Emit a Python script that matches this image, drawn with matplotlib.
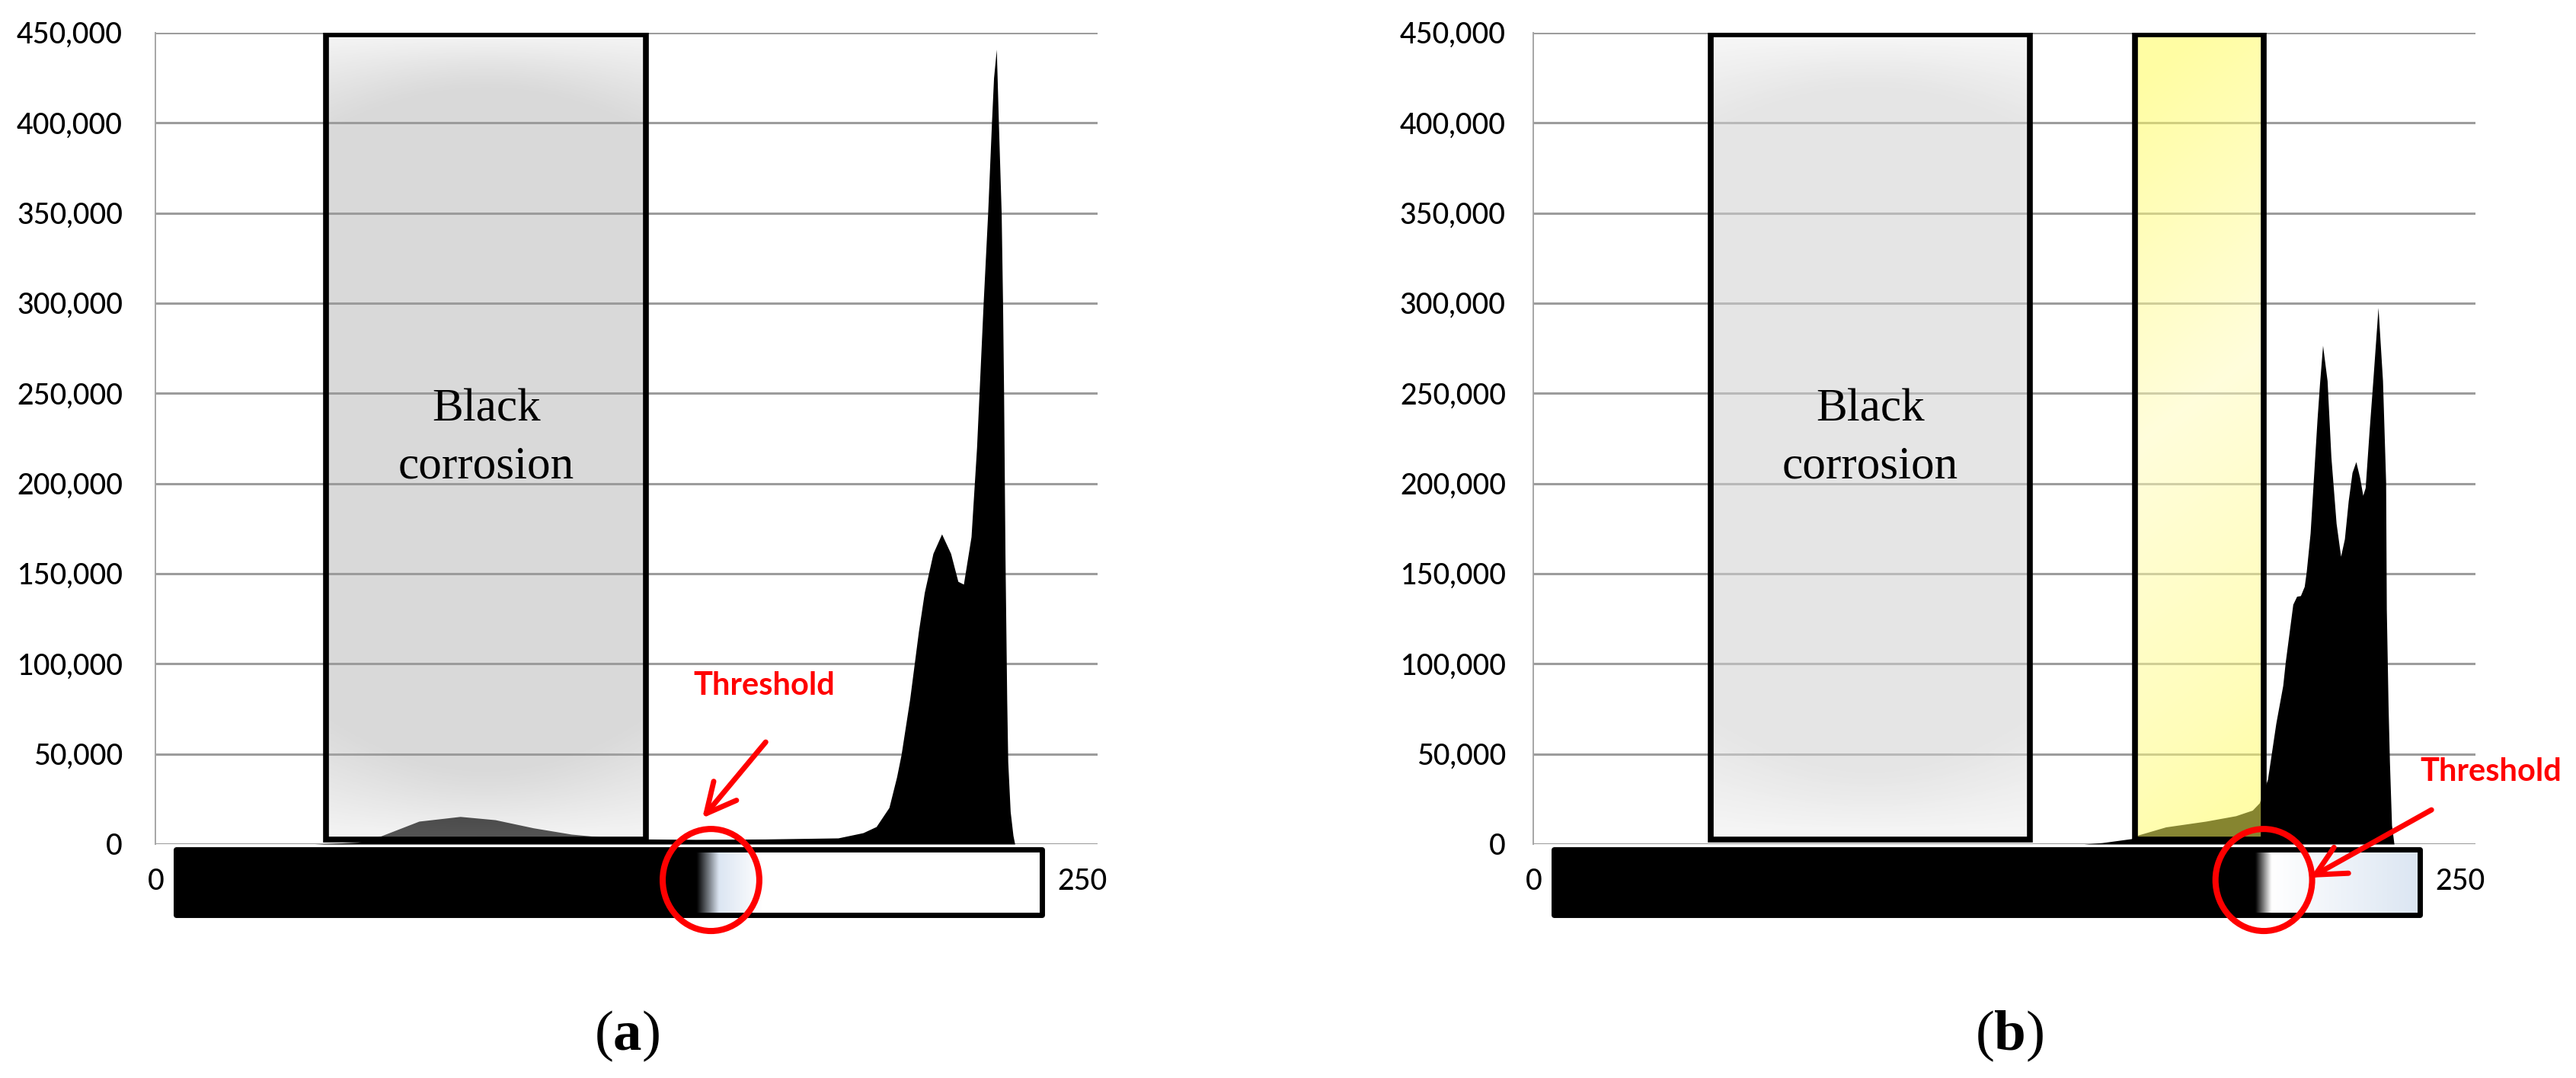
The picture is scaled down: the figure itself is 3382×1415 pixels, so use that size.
import numpy as np
import matplotlib
matplotlib.use('Agg')
import matplotlib.pyplot as plt
from matplotlib.patches import Rectangle, Ellipse
from matplotlib.ticker import FuncFormatter

plt.rcParams['font.family'] = ['Lato', 'DejaVu Sans']
plt.rcParams['mathtext.fontset'] = 'custom'
plt.rcParams['mathtext.rm'] = 'Liberation Serif'
plt.rcParams['mathtext.bf'] = 'Liberation Serif:bold'

# Data 
y_ticks = list(range(0, 450001, 50000))
gray_range = (0, 250)

# (a) grey-level histogram
hist_a_x = [40, 52.5, 59.1, 70.1, 82.0, 92.1, 103.1, 114.1, 125.1, 135.7, 150, 170, 191.1,
            198.3, 202.1, 205.8, 208.0, 209.3, 211.8, 214.3, 216.0, 218.5, 221.0, 223.6,
            225.7, 227.3, 229.5, 231.1, 233.0, 234.3, 235.4, 236.0, 236.8, 237.4, 238.2,
            238.6, 238.9, 239.3, 239.8, 240.1, 240.8, 241.6, 242.1]
hist_a_y = [0, 1000, 4500, 12700, 15300, 13500, 9000, 5500, 3500, 2800, 2600, 2800, 3400,
            6300, 9700, 20300, 37200, 49600, 80600, 117800, 139500, 161200, 172000, 161200,
            145700, 144150, 170500, 220100, 300000, 350000, 400000, 425000, 440800, 400000,
            350000, 300000, 250000, 160000, 80000, 45600, 18000, 4800, 0]

# (b) grey-level histogram
hist_b_x = [150, 153.0, 158.3, 166.7, 168.6, 176.6, 188.2, 196.8, 201.6, 203.6, 204.9, 206.0,
            208.4, 210.4, 211.1, 213.3, 214.4, 215.5, 216.6, 217.2, 218.3, 219.2, 220.3,
            221.0, 221.9, 223.2, 224.3, 225.8, 227.1, 228.2, 229.3, 230.4, 231.5, 232.6,
            233.5, 234.2, 235.3, 236.4, 237.9, 239.2, 240.1, 240.3, 240.8, 241.2, 241.8, 242.5]
hist_b_y = [0, 0, 800, 3000, 5000, 9500, 12700, 15700, 18800, 22800, 30000, 36000,
            67000, 88000, 100600, 133000, 137400, 137800, 142900, 151400, 172500, 201000,
            235700, 255000, 276600, 257000, 214700, 177900, 159600, 169300, 190400, 206100,
            212100, 203200, 193400, 197700, 228500, 257000, 297600, 257000, 200800, 130200,
            77000, 45600, 10600, 0]

# grey-level ranges of the marked regions and thresholds
corrosion_a = (43.3, 135.7)
corrosion_b = (45.3, 137.3)
yellow_b = (167.8, 204.9)
threshold_a = 154.4
threshold_b = 204.9

W, H = 3382, 1415
fig = plt.figure(figsize=(W / 100, H / 100), dpi=100)
fig.patch.set_facecolor('white')

XLIM = (-6, 266)
YLIM = (0, 450000)
BAR_Y = (-39500, -2750)


def px_axes(left, right, top, bottom):
    return fig.add_axes([left / W, 1 - bottom / H, (right - left) / W, (bottom - top) / H])


def setup(ax, pad):
    ax.set_xlim(*XLIM)
    ax.set_ylim(*YLIM)
    ax.set_yticks(y_ticks)
    ax.yaxis.set_major_formatter(FuncFormatter(lambda v, p: f'{int(v):,}'))
    ax.set_xticks([])
    ax.tick_params(axis='y', length=0, pad=pad, labelsize=27, labelcolor='black')
    for lbl in ax.get_yticklabels():
        lbl.set_fontweight('medium')
    for s in ['top', 'right', 'bottom']:
        ax.spines[s].set_visible(False)
    ax.spines['left'].set_color('#a6a6a6')
    ax.spines['left'].set_linewidth(1.4)
    ax.grid(axis='y', color='#9c9c9c', lw=2.2, zorder=0)
    ax.set_axisbelow(True)


def glow_box(ax, rng, base, edge, alpha=0.55, t_top=0.07, t_bot=0.09):
    ny, nx = 400, 120
    u = np.linspace(0, 1, nx)[None, :]
    v = np.linspace(0, 1, ny)[:, None]
    side = 1 + 0.8 * (2 * u - 1) ** 2
    g_top = np.clip(1 - (1 - v) / (t_top * side), 0, 1)
    g_bot = np.clip(1 - v / (t_bot * side), 0, 1)
    g = np.maximum(g_top, g_bot) ** 1.3
    app = base + (edge - base) * g
    c = (app - (1 - alpha)) / alpha
    rgba = np.dstack([c, c, c, np.full_like(c, alpha)])
    ax.imshow(rgba, extent=[rng[0], rng[1], 2500, 449000], origin='lower',
              aspect='auto', zorder=3, interpolation='bilinear')
    ax.add_patch(Rectangle((rng[0], 2500), rng[1] - rng[0], 446500, fill=False,
                           ec='black', lw=5.5, zorder=4, joinstyle='miter'))


def yellow_box(ax, rng, alpha=0.53):
    ny, nx = 400, 60
    u = np.linspace(0, 1, nx)[None, :]
    v = np.linspace(0, 1, ny)[:, None]
    t = np.clip(v - 0.12 * (u - 0.5), 0, 1)
    b = np.interp(t, [0, 0.15, 0.55, 1], [0.66, 0.73, 0.86, 0.64])
    cb = (b - (1 - alpha)) / alpha
    rgba = np.dstack([np.ones_like(cb), np.full_like(cb, 0.99), cb, np.full_like(cb, alpha)])
    ax.imshow(rgba, extent=[rng[0], rng[1], 2500, 449000], origin='lower',
              aspect='auto', zorder=3, interpolation='bilinear')
    ax.add_patch(Rectangle((rng[0], 2500), rng[1] - rng[0], 446500, fill=False,
                           ec='black', lw=5.5, zorder=4, joinstyle='miter'))


def scale_bar(ax, stops, colors):
    xs = np.linspace(gray_range[0], gray_range[1], 600)
    cols = np.array(colors, dtype=float)
    rgb = np.stack([np.interp(xs, stops, cols[:, k]) for k in range(3)], axis=-1)[None, :, :]
    im = ax.imshow(rgb, extent=[gray_range[0], gray_range[1], BAR_Y[0], BAR_Y[1]],
                   aspect='auto', zorder=4, interpolation='bilinear')
    im.set_clip_on(False)
    ax.add_patch(Rectangle((gray_range[0], BAR_Y[0]), gray_range[1] - gray_range[0],
                           BAR_Y[1] - BAR_Y[0], fill=False, ec='black', lw=5,
                           zorder=5, clip_on=False, joinstyle='round'))
    ymid = (BAR_Y[0] + BAR_Y[1]) / 2
    ax.text(gray_range[0] - 3.5, ymid, '0', ha='right', va='center', fontsize=27,
            fontweight='medium')
    ax.text(gray_range[1] + 4.5, ymid, '250', ha='left', va='center', fontsize=27,
            fontweight='medium')


def threshold_mark(ax, thr, label_xy, tail, tip):
    ax.add_patch(Ellipse((thr, -19900), 27.9, 56600, fill=False, ec='#ff0000', lw=5.8,
                         zorder=7, clip_on=False))
    ax.annotate('', xy=tip, xytext=tail, annotation_clip=False, zorder=7,
                arrowprops=dict(arrowstyle='->,head_length=0.7,head_width=0.35',
                                color='#ff0000', lw=5, mutation_scale=40,
                                shrinkA=0, shrinkB=0))
    ax.text(*label_xy, 'Threshold', color='#ff0000', fontsize=30, fontweight='bold',
            ha='center', va='center', zorder=7)


# Panel (a)
ax_a = px_axes(204, 1441, 43, 1108)
setup(ax_a, pad=31)
ax_a.fill_between(hist_a_x, hist_a_y, color='black', lw=0, zorder=2)
glow_box(ax_a, corrosion_a, base=0.85, edge=0.96, alpha=0.38)
ax_a.text(np.mean(corrosion_a), 225000, 'Black\ncorrosion', ha='center', va='center',
          fontsize=44, family='Liberation Serif', linespacing=1.45, zorder=6)
scale_bar(ax_a, [0, threshold_a - 4, threshold_a + 2.4, threshold_a + 15, 250],
          [(0, 0, 0), (0, 0, 0), (0.86, 0.9, 0.95), (1, 1, 1), (1, 1, 1)])
threshold_mark(ax_a, threshold_a, (169.7, 87900), (170.2, 56600), (151.9, 14400))

# Panel (b)
ax_b = px_axes(2013, 3250, 43, 1108)
setup(ax_b, pad=26)
ax_b.fill_between(hist_b_x, hist_b_y, color='black', lw=0, zorder=2)
glow_box(ax_b, corrosion_b, base=0.9, edge=0.97)
yellow_box(ax_b, yellow_b)
ax_b.text(np.mean(corrosion_b), 225000, 'Black\ncorrosion', ha='center', va='center',
          fontsize=44, family='Liberation Serif', linespacing=1.45, zorder=6)
scale_bar(ax_b, [0, threshold_b - 2.2, threshold_b + 2.4, 250],
          [(0, 0, 0), (0, 0, 0), (1, 1, 1), (0.86, 0.9, 0.95)])
threshold_mark(ax_b, threshold_b, (270.4, 40100), (253.3, 19000), (218.3, -18600))

fig.text(823 / W, 1 - 1360 / H, r'($\mathbf{a}$)', ha='center', va='center',
         fontsize=54, family='Liberation Serif')
fig.text(2638 / W, 1 - 1360 / H, r'($\mathbf{b}$)', ha='center', va='center',
         fontsize=54, family='Liberation Serif')

fig.savefig('out.png', dpi=100, facecolor='white')
